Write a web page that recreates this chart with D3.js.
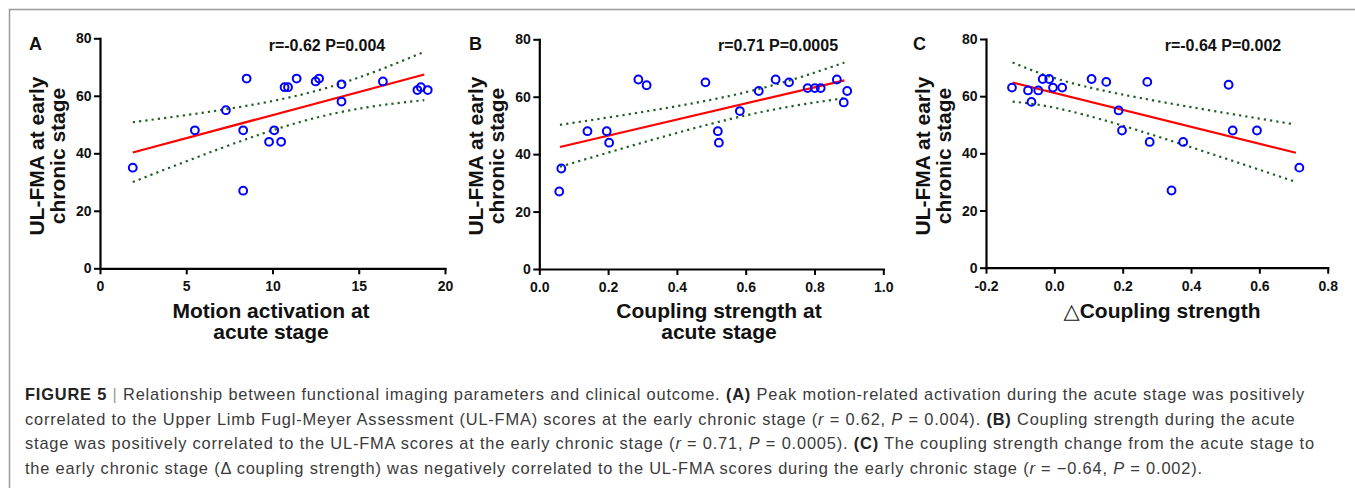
<!DOCTYPE html>
<html>
<head>
<meta charset="utf-8">
<script src="https://cdn.jsdelivr.net/npm/d3@7"></script>
<style>
  html, body { margin: 0; padding: 0; background: #fff; }
  svg { display: block; font-family: "Liberation Sans", Arial, sans-serif; }
</style>
</head>
<body>
<div id="chart"></div>
<script>
// panel A: motion activation vs UL-FMA
const aX = [1.9, 5.5, 7.3, 8.5, 8.3, 8.3, 9.8, 10.1, 10.5, 10.7, 10.9, 11.4, 12.5, 12.7, 14.0, 14.0, 16.4, 18.4, 18.6, 19.0];
const aY = [35, 48, 55, 66, 48, 27, 44, 48, 44, 63, 63, 66, 65, 66, 64, 58, 65, 62, 63, 62];
const aFitX = [1.9, 18.8];
const aFitY = [40.3, 67.4];
const aBandX = [1.9, 11.6, 18.8];
const aUpper = [50.8, 60.3, 75.3];
const aLower = [30.0, 50.9, 58.5];
const aXTicks = [0, 5, 10, 15, 20];
const aXTickLabels = ['0', '5', '10', '15', '20'];

// panel B: coupling strength at acute stage
const bX = [0.058, 0.064, 0.14, 0.196, 0.203, 0.288, 0.312, 0.483, 0.519, 0.522, 0.583, 0.638, 0.687, 0.726, 0.78, 0.801, 0.818, 0.865, 0.885, 0.895];
const bY = [27, 35, 48, 48, 44, 66, 64, 65, 48, 44, 55, 62, 66, 65, 63, 63, 63, 66, 58, 62];
const bFitX = [0.06, 0.887];
const bFitY = [42.5, 65.7];
const bBandX = [0.06, 0.554, 0.887];
const bUpper = [50.2, 60.3, 71.9];
const bLower = [35.6, 52.2, 59.5];
const bXTicks = [0, 0.2, 0.4, 0.6, 0.8, 1.0];
const bXTickLabels = ['0.0', '0.2', '0.4', '0.6', '0.8', '1.0'];

// panel C: delta coupling strength
const cX = [-0.124, -0.077, -0.067, -0.047, -0.034, -0.015, -0.004, 0.023, 0.109, 0.152, 0.188, 0.198, 0.272, 0.279, 0.343, 0.377, 0.51, 0.522, 0.593, 0.717];
const cY = [63, 62, 58, 62, 66, 66, 63, 63, 66, 65, 55, 48, 65, 44, 27, 44, 64, 48, 48, 35];
const cFitX = [-0.122, 0.707];
const cFitY = [64.8, 40.2];
const cBandX = [-0.122, 0.134, 0.70];
const cUpper = [71.8, 62.2, 50.2];
const cLower = [58.1, 52.0, 30.3];
const cXTicks = [-0.2, 0, 0.2, 0.4, 0.6, 0.8];
const cXTickLabels = ['-0.2', '0.0', '0.2', '0.4', '0.6', '0.8'];

const yTicks = [0, 20, 40, 60, 80];
const yLabelLines = ['UL-FMA at early', 'chronic stage'];

const captionLines = [
  [['FIGURE 5', 'b'], [' | ', 'sep'], ['Relationship between functional imaging parameters and clinical outcome. ', ''], ['(A)', 'b'], [' Peak motion-related activation during the acute stage was positively', '']],
  [['correlated to the Upper Limb Fugl-Meyer Assessment (UL-FMA) scores at the early chronic stage (', ''], ['r', 'i'], [' = 0.62, ', ''], ['P', 'i'], [' = 0.004). ', ''], ['(B)', 'b'], [' Coupling strength during the acute', '']],
  [['stage was positively correlated to the UL-FMA scores at the early chronic stage (', ''], ['r', 'i'], [' = 0.71, ', ''], ['P', 'i'], [' = 0.0005). ', ''], ['(C)', 'b'], [' The coupling strength change from the acute stage to', '']],
  [['the early chronic stage (\u0394 coupling strength) was negatively correlated to the UL-FMA scores during the early chronic stage (', ''], ['r', 'i'], [' = \u22120.64, ', ''], ['P', 'i'], [' = 0.002).', '']]
];

const W = 1355, H = 488;
const svg = d3.select('#chart').append('svg')
  .attr('width', W)
  .attr('height', H);

// frame
svg.append('path')
  .attr('d', `M9.5,${H} V9.5 H${W}`)
  .attr('fill', 'none')
  .attr('stroke', '#9a9a9a')
  .attr('stroke-width', 1.5);

const panels = [
  { letter: 'A', xs: aX, ys: aY, fitX: aFitX, fitY: aFitY, bandX: aBandX, upper: aUpper, lower: aLower,
    domain: [0, 20], range: [100, 445], yRange: [268.3, 38.3], ticks: aXTicks, tickLabels: aXTickLabels,
    stat: 'r=-0.62 P=0.004', statX: 327, letterX: 29, xLabel: ['Motion activation at', 'acute stage'], xLabelX: 271 },
  { letter: 'B', xs: bX, ys: bY, fitX: bFitX, fitY: bFitY, bandX: bBandX, upper: bUpper, lower: bLower,
    domain: [0, 1], range: [539.3, 883.3], yRange: [269, 39.3], ticks: bXTicks, tickLabels: bXTickLabels,
    stat: 'r=0.71 P=0.0005', statX: 778, letterX: 469, xLabel: ['Coupling strength at', 'acute stage'], xLabelX: 719 },
  { letter: 'C', xs: cX, ys: cY, fitX: cFitX, fitY: cFitY, bandX: cBandX, upper: cUpper, lower: cLower,
    domain: [-0.2, 0.8], range: [986, 1327.7], yRange: [267.7, 39], ticks: cXTicks, tickLabels: cXTickLabels,
    stat: 'r=-0.64 P=0.002', statX: 1223, letterX: 913, xLabel: null, xLabelX: 1162 }
];

panels.forEach(p => {
  const x = d3.scaleLinear().domain(p.domain).range(p.range);
  const y = d3.scaleLinear().domain([0, 80]).range(p.yRange);
  const g = svg.append('g').attr('class', 'panel');

  // axes
  const xAxis = g.append('g')
    .attr('transform', `translate(0,${p.yRange[0]})`)
    .call(d3.axisBottom(x).tickValues(p.ticks).tickFormat((d, i) => p.tickLabels[i])
      .tickSize(6).tickSizeOuter(0).tickPadding(7));
  const yAxis = g.append('g')
    .attr('transform', `translate(${p.range[0]},0)`)
    .call(d3.axisLeft(y).tickValues(yTicks).tickSize(6).tickSizeOuter(0).tickPadding(2.5));

  [xAxis, yAxis].forEach(ax => {
    ax.select('.domain').attr('stroke', '#000').attr('stroke-width', 2.2).attr('stroke-linecap', 'square');
    ax.selectAll('.tick line').attr('stroke', '#000').attr('stroke-width', 2);
    ax.selectAll('.tick text')
      .attr('fill', '#111')
      .style('font-family', '"Liberation Sans", Arial, sans-serif')
      .style('font-size', '14px')
      .style('font-weight', 'bold');
  });

  // confidence band (dotted)
  const band = d3.line().curve(d3.curveNatural).x(d => x(d[0])).y(d => y(d[1]));
  [p.upper, p.lower].forEach(vals => {
    g.append('path')
      .attr('d', band(p.bandX.map((v, i) => [v, vals[i]])))
      .attr('fill', 'none')
      .attr('stroke', '#1f5f24')
      .attr('stroke-width', 2.2)
      .attr('stroke-dasharray', '2.2,4.1');
  });

  // regression line
  g.append('path')
    .attr('d', d3.line().x(d => x(d[0])).y(d => y(d[1]))(p.fitX.map((v, i) => [v, p.fitY[i]])))
    .attr('fill', 'none')
    .attr('stroke', '#ff0000')
    .attr('stroke-width', 2.2);

  // points
  g.selectAll('circle.pt')
    .data(p.xs.map((v, i) => [v, p.ys[i]]))
    .join('circle')
    .attr('class', 'pt')
    .attr('cx', d => x(d[0]))
    .attr('cy', d => y(d[1]))
    .attr('r', 3.9)
    .attr('fill', 'none')
    .attr('stroke', '#0000ff')
    .attr('stroke-width', 2);

  // panel letter
  g.append('text')
    .attr('x', p.letterX)
    .attr('y', 49.5)
    .attr('font-size', 18)
    .attr('font-weight', 'bold')
    .attr('fill', '#111')
    .text(p.letter);

  // stats
  g.append('text')
    .attr('x', p.statX)
    .attr('y', 50.7)
    .attr('text-anchor', 'middle')
    .attr('font-size', 16)
    .attr('font-weight', 'bold')
    .attr('fill', '#111')
    .text(p.stat);

  // y label
  const yl = g.append('text')
    .attr('transform', `translate(${p.range[0] - 56},156) rotate(-90)`)
    .attr('text-anchor', 'middle')
    .attr('font-size', 21)
    .attr('font-weight', 'bold')
    .attr('fill', '#111');
  yLabelLines.forEach((t, i) => {
    yl.append('tspan').attr('x', 0).attr('y', i * 21).text(t);
  });

  // x label
  const xl = g.append('text')
    .attr('x', p.xLabelX)
    .attr('y', 318.3)
    .attr('text-anchor', 'middle')
    .attr('font-size', 21)
    .attr('font-weight', 'bold')
    .attr('fill', '#111');
  if (p.xLabel) {
    p.xLabel.forEach((t, i) => {
      xl.append('tspan').attr('x', p.xLabelX).attr('y', 318.3 + i * 21).text(t);
    });
  } else {
    xl.append('tspan').attr('font-weight', 'normal').style('font-family', '"DejaVu Sans", sans-serif').text('\u25B3');
    xl.append('tspan').text('Coupling strength');
  }
});

// caption
const capBase = [400, 424.5, 449, 473.5];
captionLines.forEach((segs, li) => {
  const t = svg.append('text')
    .attr('x', 25)
    .attr('y', capBase[li])
    .attr('font-size', 16.4)
    .attr('letter-spacing', 0.82)
    .attr('fill', '#3a3a3a');
  segs.forEach(([s, st]) => {
    const ts = t.append('tspan').text(s);
    if (st === 'b') ts.attr('font-weight', 'bold').attr('fill', '#222');
    if (st === 'i') ts.attr('font-style', 'italic');
    if (st === 'sep') ts.attr('fill', '#9a9a9a');
  });
});
</script>
</body>
</html>
